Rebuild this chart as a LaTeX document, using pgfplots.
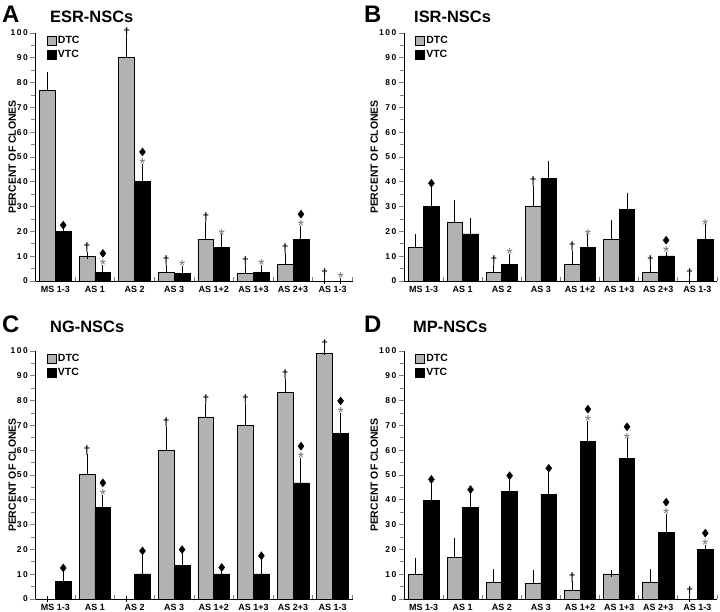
\documentclass[border=0pt]{standalone}
\usepackage{pgfplots}
\usepackage{pgfplotstable}
\pgfplotsset{compat=1.18}
\usepackage{fontspec}
\setmainfont{Liberation Sans}
\definecolor{dtc}{gray}{0.70}
\definecolor{astg}{gray}{0.45}
\newcommand{\dg}{\fontsize{12}{12}\selectfont\bfseries †}
\newcommand{\astk}{\fontsize{16}{16}\selectfont *}
\newcommand{\tsp}{\hspace{1.5bp}}

% x = category, d/de = DTC mean / upper error, v/ve = VTC mean / upper error
\pgfplotstableread{
x d    de  v    ve
0 76.7 6.3 20   0.3
1 10   0.3 3.4  1.7
2 90   7   40   6
3 3.4  1.7 3.1  1.6
4 16.8 5.8 13.5 4
5 3.1  1.6 3.4  1.7
6 6.7  3.4 16.8 4.1
7 0    0   0    0
}\tA
\pgfplotstableread{
x d    de  v    ve
0 13.5 4   30   7.2
1 23.5 7.7 19   5.1
2 3.4  1.7 6.7  3
3 30   7   41.2 5.9
4 6.7  4   13.5 4
5 16.8 6.6 28.9 5.2
6 3.4  1.7 10.1 0.3
7 0    0   16.8 4.7
}\tB
\pgfplotstableread{
x d    de  v    ve
0 0    0   7.1  3.2
1 50.1 6.9 36.9 3.9
2 0    0   10.1 7.1
3 60   8.2 13.4 4.3
4 73.4 4   10.1 0.4
5 70.1 7.1 10.1 5.1
6 83.4 4.1 46.8 8.8
7 98.9 0.8 66.7 7.1
}\tC
\pgfplotstableread{
x d    de  v    ve
0 10.1 5.1 39.7 6.3
1 16.8 6.6 36.8 5.1
2 6.7  4   43.5 4
3 6.3  4.2 42.3 8.2
4 3.4  2.4 63.5 7
5 10.1 0.2 56.8 6.6
6 6.7  4   26.8 6.2
7 0    0   20.1 0.4
}\tD

\pgfplotsset{
  panel/.style={
    scale only axis, height=248bp,
    xmin=-0.5, xmax=7.5, ymin=0, ymax=100,
    axis x line*=bottom, axis y line*=left,
    axis line style={line width=1bp, -},
    xtick={0,...,7},
    xticklabels={MS 1-3, AS 1, AS 2, AS 3, AS 1+2, AS 1+3, AS 2+3, AS 1-3},
    major x tick style={draw=none},
    minor xtick={0.5,1.5,...,7.5},
    minor x tick style={line width=1bp, yshift=4bp},
    minor tick length=4bp,
    major tick length=5bp,
    ytick={0,10,...,100},
    yticklabels={0,1\tsp0,2\tsp0,3\tsp0,4\tsp0,5\tsp0,6\tsp0,7\tsp0,8\tsp0,9\tsp0,1\tsp0\tsp0},
    minor ytick={5,15,...,95},
    tick align=outside,
    major y tick style={line width=0.9bp},
    minor y tick style={line width=0.9bp},
    xticklabel style={font=\bfseries\fontsize{9}{10}\selectfont},
    xticklabel shift=-3bp,
    yticklabel style={font=\bfseries\fontsize{8.5}{9}\selectfont, inner sep=0pt, xshift=-2.5bp},
    ylabel={PERCENT OF CLONES},
    ylabel style={anchor=center, font=\bfseries\fontsize{10.5}{12}\selectfont},
    legend style={draw=none, fill=none, at={(axis description cs:0.035,0.992)}, anchor=north west,
                  font=\bfseries\fontsize{10.5}{12}\selectfont, row sep=2bp, inner sep=0pt,
                  nodes={inner sep=1.5bp}},
    legend cell align=left,
    clip=false,
  },
  errs/.style={error bars/y dir=plus, error bars/y explicit,
    error bars/error bar style={line width=1bp, black},
    error bars/error mark options={line width=1bp, mark size=3.3bp, black}},
  sqleg/.style={legend image code/.code={\draw[##1, line width=0.7bp] (0bp,-4.5bp) rectangle (9bp,4.5bp);}},
  dbar/.style={ybar, bar width=0.4, bar shift=0, fill=dtc, draw=black, line width=0.7bp, errs, sqleg},
  vbar/.style={ybar, bar width=0.4, bar shift=0, fill=black, draw=black, line width=0.7bp, errs, sqleg},
  dagplot/.style={forget plot, only marks, mark=text, text mark={\dg}, text mark as node=true,
    text mark style={inner sep=0pt, yshift=7.5bp}},
  astplot/.style={forget plot, only marks, mark=text, text mark={\astk}, text mark as node=true,
    text mark style={inner sep=0pt, yshift=3bp, text=astg}},
  diaplot/.style={forget plot, only marks, mark=diamond*, mark size=4bp,
    mark options={fill=black, draw=black, yshift=#1}},
}
\newcommand{\bars}[1]{%
  \addplot[dbar] table[x expr=\thisrow{x}-0.2, y=d, y error=de] {#1};
  \addlegendentry{DTC}
  \addplot[vbar] table[x expr=\thisrow{x}+0.2, y=v, y error=ve] {#1};
  \addlegendentry{VTC}
}

\begin{document}
\begin{tikzpicture}
\path[use as bounding box] (0,0) rectangle (720bp,-612bp);

% ---------------- A ----------------
\begin{axis}[panel, width=317bp, at={(35.5bp,-281bp)}, anchor=south west,
  ylabel style={at={(axis description cs:-0.073,0.5)}}]
\bars{\tA}
\addplot[dagplot] coordinates {(0.8,10.3) (1.8,97) (2.8,5.1) (3.8,22.6) (4.8,4.7) (5.8,10.1) (6.8,0)};
\addplot[astplot] coordinates {(1.2,5.1) (2.2,46) (3.2,4.7) (4.2,17.5) (5.2,5.1) (6.2,20.9) (7.2,0)};
\addplot[diaplot=5.5bp] coordinates {(0.2,20.3)};
\addplot[diaplot=15bp] coordinates {(1.2,5.1) (2.2,46) (6.2,20.9)};
\end{axis}

% ---------------- B ----------------
\begin{axis}[panel, width=313bp, at={(404bp,-281bp)}, anchor=south west,
  ylabel style={at={(axis description cs:-0.095,0.5)}}]
\bars{\tB}
\addplot[dagplot] coordinates {(1.8,5.1) (2.8,37) (3.8,10.7) (5.8,5.1) (6.8,0)};
\addplot[astplot] coordinates {(2.2,9.7) (4.2,17.5) (6.2,10.4) (7.2,21.5)};
\addplot[diaplot=5.5bp] coordinates {(0.2,37.2)};
\addplot[diaplot=15bp] coordinates {(6.2,10.4)};
\end{axis}

% ---------------- C ----------------
\begin{axis}[panel, width=317bp, at={(35.5bp,-599bp)}, anchor=south west,
  ylabel style={at={(axis description cs:-0.073,0.5)}}]
\bars{\tC}
\addplot[dagplot] coordinates {(0.8,57) (2.8,68.2) (3.8,77.4) (4.8,77.2) (5.8,87.5) (6.8,99.7)};
\addplot[astplot] coordinates {(1.2,40.8) (6.2,55.6) (7.2,73.8)};
\addplot[diaplot=5.5bp] coordinates {(0.2,10.3) (2.2,17.2) (3.2,17.7) (4.2,10.5) (5.2,15.2)};
\addplot[diaplot=15bp] coordinates {(1.2,40.8) (6.2,55.6) (7.2,73.8)};
\end{axis}

% ---------------- D ----------------
\begin{axis}[panel, width=313bp, at={(404bp,-599bp)}, anchor=south west,
  ylabel style={at={(axis description cs:-0.095,0.5)}}]
\bars{\tD}
\addplot[dagplot] coordinates {(3.8,5.8) (6.8,0)};
\addplot[astplot] coordinates {(4.2,70.5) (5.2,63.4) (6.2,33) (7.2,20.5)};
\addplot[diaplot=5.5bp] coordinates {(0.2,46) (1.2,41.9) (2.2,47.5) (3.2,50.5)};
\addplot[diaplot=15bp] coordinates {(4.2,70.5) (5.2,63.4) (6.2,33) (7.2,20.5)};
\end{axis}

% panel letters and titles
\node[anchor=base west, inner sep=0pt, font=\bfseries\fontsize{24}{24}\selectfont] at (2bp,-22bp) {A};
\node[anchor=base west, inner sep=0pt, font=\bfseries\fontsize{16.5}{17}\selectfont] at (50bp,-22bp) {ESR-NSCs};
\node[anchor=base west, inner sep=0pt, font=\bfseries\fontsize{24}{24}\selectfont] at (364bp,-22bp) {B};
\node[anchor=base west, inner sep=0pt, font=\bfseries\fontsize{16.5}{17}\selectfont] at (414bp,-22bp) {ISR-NSCs};
\node[anchor=base west, inner sep=0pt, font=\bfseries\fontsize{24}{24}\selectfont] at (2bp,-332bp) {C};
\node[anchor=base west, inner sep=0pt, font=\bfseries\fontsize{16.5}{17}\selectfont] at (50bp,-332bp) {NG-NSCs};
\node[anchor=base west, inner sep=0pt, font=\bfseries\fontsize{24}{24}\selectfont] at (364bp,-332bp) {D};
\node[anchor=base west, inner sep=0pt, font=\bfseries\fontsize{16.5}{17}\selectfont] at (413bp,-332bp) {MP-NSCs};
\end{tikzpicture}
\end{document}
